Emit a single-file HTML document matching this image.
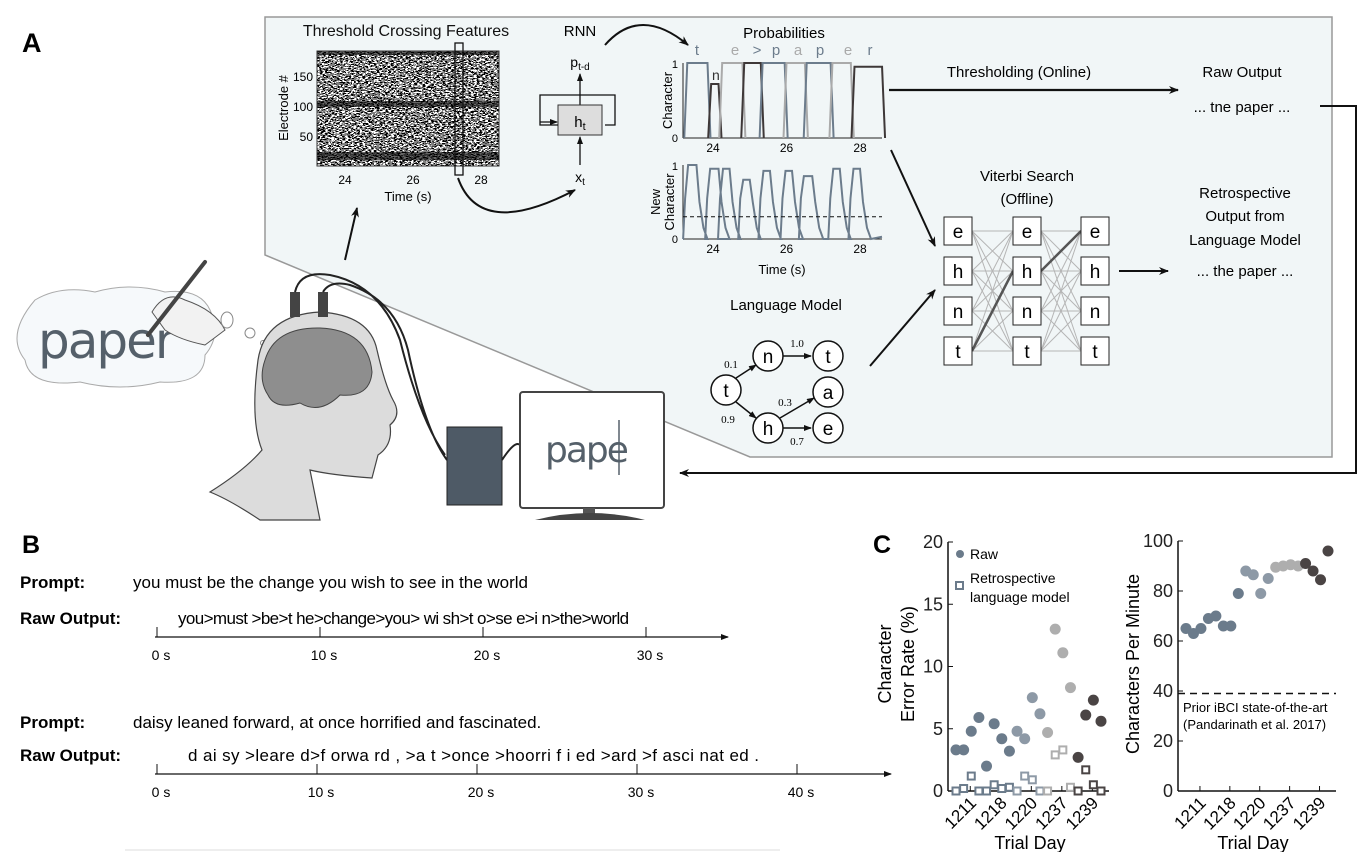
<!DOCTYPE html>
<html><head><meta charset="utf-8">
<style>
html,body{margin:0;padding:0;background:#fff;}
svg{display:block;font-family:"Liberation Sans",sans-serif;}
</style></head>
<body>
<svg id="fig" width="1364" height="852" viewBox="0 0 1364 852">
<defs>
  <marker id="ah" markerWidth="10" markerHeight="8" refX="9" refY="4" orient="auto" markerUnits="userSpaceOnUse"><path d="M0,0 L10,4 L0,8 L3,4 Z" fill="#111"/></marker>
  <marker id="ahs" markerWidth="8" markerHeight="6" refX="7" refY="3" orient="auto" markerUnits="userSpaceOnUse"><path d="M0,0 L8,3 L0,6 Z" fill="#111"/></marker>
  <filter id="noise" x="0" y="0" width="100%" height="100%">
    <feTurbulence type="fractalNoise" baseFrequency="0.35 1.2" numOctaves="2" seed="4"/>
    <feColorMatrix type="saturate" values="0"/>
    <feComponentTransfer><feFuncR type="discrete" tableValues="0 0 1 1"/><feFuncG type="discrete" tableValues="0 0 1 1"/><feFuncB type="discrete" tableValues="0 0 1 1"/><feFuncA type="linear" slope="0" intercept="1"/></feComponentTransfer>
  </filter>
</defs>

<!-- Panel A -->
<text x="22" y="52" font-size="27" font-weight="bold">A</text>
<polygon points="265,17 1332,17 1332,457 750,457 265,255" fill="#f1f6f7" stroke="#999" stroke-width="1.5"/>

<text x="406" y="36" font-size="16" text-anchor="middle" fill="#111">Threshold Crossing Features</text>
<g>
  <rect x="317" y="51" width="182" height="115" fill="#fff" filter="url(#noise)"/>
  <rect x="317" y="51" width="182" height="4" fill="#000" opacity="0.6"/>
  <rect x="317" y="101" width="182" height="6" fill="#000" opacity="0.6"/>
  <rect x="317" y="152" width="182" height="8" fill="#000" opacity="0.6"/>
  <rect x="317" y="51" width="182" height="115" fill="none" stroke="#333" stroke-width="1"/>
  <rect x="455" y="43" width="8" height="132" fill="none" stroke="#111" stroke-width="1.3"/>
</g>
<text x="313" y="81" font-size="12" text-anchor="end">150</text>
<text x="313" y="111" font-size="12" text-anchor="end">100</text>
<text x="313" y="141" font-size="12" text-anchor="end">50</text>
<text transform="translate(288,108) rotate(-90)" font-size="13" text-anchor="middle">Electrode #</text>
<text x="345" y="184" font-size="12" text-anchor="middle">24</text>
<text x="413" y="184" font-size="12" text-anchor="middle">26</text>
<text x="481" y="184" font-size="12" text-anchor="middle">28</text>
<text x="408" y="201" font-size="13" text-anchor="middle">Time (s)</text>

<text x="580" y="36" font-size="15" text-anchor="middle">RNN</text>
<text x="580" y="67" font-size="14" text-anchor="middle">p<tspan font-size="10" dy="3">t-d</tspan></text>
<line x1="580" y1="105" x2="580" y2="74" stroke="#111" stroke-width="1.3" marker-end="url(#ahs)"/>
<rect x="558" y="105" width="44" height="30" fill="#ddd" stroke="#333"/>
<text x="580" y="127" font-size="15" text-anchor="middle">h<tspan font-size="11" dy="3">t</tspan></text>
<path d="M580,95 L615,95 L615,125 L605,125 M558,125 L540,125 L540,95 L580,95" fill="none" stroke="#111" stroke-width="1.3"/>
<line x1="540" y1="122" x2="557" y2="122" stroke="#111" stroke-width="1.3" marker-end="url(#ahs)"/>
<line x1="580" y1="165" x2="580" y2="137" stroke="#111" stroke-width="1.3" marker-end="url(#ahs)"/>
<text x="580" y="182" font-size="14" text-anchor="middle">x<tspan font-size="10" dy="3">t</tspan></text>
<path d="M458,178 Q480,240 575,190" fill="none" stroke="#111" stroke-width="2" marker-end="url(#ah)"/>
<path d="M605,45 Q640,5 688,45" fill="none" stroke="#111" stroke-width="2" marker-end="url(#ah)"/>
<line x1="345" y1="260" x2="357" y2="208" stroke="#111" stroke-width="2" marker-end="url(#ah)"/>

<text x="784" y="38" font-size="15" text-anchor="middle">Probabilities</text>
<g id="probs"></g>

<text x="1019" y="77" font-size="15" text-anchor="middle">Thresholding (Online)</text>
<line x1="889" y1="90" x2="1178" y2="90" stroke="#111" stroke-width="2.2" marker-end="url(#ah)"/>
<text x="1242" y="77" font-size="15" text-anchor="middle">Raw Output</text>
<text x="1242" y="112" font-size="15" text-anchor="middle">... tne paper ...</text>
<polyline points="1320,106 1356,106 1356,473 680,473" fill="none" stroke="#111" stroke-width="2" marker-end="url(#ah)"/>

<text x="1027" y="181" font-size="15" text-anchor="middle">Viterbi Search</text>
<text x="1027" y="204" font-size="15" text-anchor="middle">(Offline)</text>
<g id="viterbi"></g>
<line x1="891" y1="150" x2="935" y2="246" stroke="#111" stroke-width="2" marker-end="url(#ah)"/>
<line x1="870" y1="366" x2="935" y2="290" stroke="#111" stroke-width="2" marker-end="url(#ah)"/>
<text x="1245" y="198" font-size="15" text-anchor="middle">Retrospective</text>
<text x="1245" y="221" font-size="15" text-anchor="middle">Output from</text>
<text x="1245" y="245" font-size="15" text-anchor="middle">Language Model</text>
<line x1="1119" y1="271" x2="1168" y2="271" stroke="#111" stroke-width="2" marker-end="url(#ah)"/>
<text x="1245" y="276" font-size="15" text-anchor="middle">... the paper ...</text>

<text x="786" y="310" font-size="15" text-anchor="middle">Language Model</text>
<g font-size="19" text-anchor="middle">
  <line x1="736" y1="378" x2="756" y2="365" stroke="#111" stroke-width="1.5" marker-end="url(#ahs)"/>
  <line x1="736" y1="402" x2="756" y2="418" stroke="#111" stroke-width="1.5" marker-end="url(#ahs)"/>
  <line x1="783" y1="356" x2="811" y2="356" stroke="#111" stroke-width="1.5" marker-end="url(#ahs)"/>
  <line x1="780" y1="418" x2="814" y2="398" stroke="#111" stroke-width="1.5" marker-end="url(#ahs)"/>
  <line x1="783" y1="428" x2="811" y2="428" stroke="#111" stroke-width="1.5" marker-end="url(#ahs)"/>
  <circle cx="726" cy="390" r="15" fill="#fff" stroke="#111" stroke-width="1.5"/><text x="726" y="397">t</text>
  <circle cx="768" cy="356" r="15" fill="#fff" stroke="#111" stroke-width="1.5"/><text x="768" y="363">n</text>
  <circle cx="828" cy="356" r="15" fill="#fff" stroke="#111" stroke-width="1.5"/><text x="828" y="363">t</text>
  <circle cx="828" cy="392" r="15" fill="#fff" stroke="#111" stroke-width="1.5"/><text x="828" y="399">a</text>
  <circle cx="768" cy="428" r="15" fill="#fff" stroke="#111" stroke-width="1.5"/><text x="768" y="435">h</text>
  <circle cx="828" cy="428" r="15" fill="#fff" stroke="#111" stroke-width="1.5"/><text x="828" y="435">e</text>
  <g font-family="Liberation Serif, serif" font-size="11"><text x="731" y="368">0.1</text><text x="728" y="423">0.9</text><text x="797" y="347">1.0</text><text x="785" y="406">0.3</text><text x="797" y="445">0.7</text></g>
</g>

<g>
  <path d="M35,300 Q60,285 95,292 Q130,282 165,292 Q200,288 210,310 Q222,335 205,355 Q205,385 160,382 Q120,392 80,382 Q30,388 25,360 Q5,335 35,300 Z" fill="#f6f9fb" stroke="#aaa"/>
  <text x="38" y="358" font-size="50" fill="#55606a" font-family="DejaVu Sans,sans-serif" letter-spacing="-2">paper</text>
  <path d="M152,312 Q165,290 185,300 Q215,310 225,330 L205,345 Q180,340 165,330 Z" fill="#f2f2f2" stroke="#555"/>
  <line x1="148" y1="335" x2="205" y2="262" stroke="#444" stroke-width="4" stroke-linecap="round"/>
  <ellipse cx="227" cy="320" rx="6" ry="8" fill="#fff" stroke="#888"/>
  <circle cx="250" cy="333" r="5" fill="#fff" stroke="#888"/>
  <circle cx="263" cy="343" r="2.5" fill="#fff" stroke="#888"/>
  <path d="M258,360 Q265,315 320,312 Q370,315 377,350 Q385,385 393,400 Q402,415 390,425 Q393,445 378,455 L372,478 Q330,475 310,470 L320,520 L260,520 Q230,500 210,492 Q245,470 262,450 Q250,420 258,360 Z" fill="#dcdcdc" stroke="#444" stroke-width="1.2"/>
  <path d="M265,360 Q275,327 320,328 Q368,330 372,372 Q370,398 340,395 Q320,415 300,403 Q275,410 268,395 Q258,380 265,360 Z" fill="#8e8e8e" stroke="#444"/>
  <rect x="290" y="292" width="10" height="25" fill="#444"/>
  <rect x="318" y="292" width="10" height="25" fill="#444"/>
  <path d="M295,292 Q300,270 330,275 Q380,285 400,340 Q420,420 445,455 M323,292 Q330,280 350,285 Q395,300 408,350 Q425,430 447,460" fill="none" stroke="#222" stroke-width="2"/>
  <rect x="447" y="427" width="55" height="78" fill="#4e5a66" stroke="#222"/>
  <path d="M502,460 Q515,440 520,445" fill="none" stroke="#222" stroke-width="2"/>
  <rect x="520" y="392" width="144" height="116" rx="3" fill="#fff" stroke="#444" stroke-width="2"/>
  <text x="545" y="462" font-size="36" fill="#55606a" font-family="DejaVu Sans,sans-serif" letter-spacing="-2">pape</text>
  <line x1="619" y1="420" x2="619" y2="475" stroke="#55606a" stroke-width="1.5"/>
  <rect x="583" y="508" width="12" height="12" fill="#555"/>
  <path d="M535,520 Q590,506 645,520 Z" fill="#444"/>
</g>

<!-- Panel B -->
<text x="22" y="553" font-size="25" font-weight="bold">B</text>
<g font-size="17">
  <text x="20" y="588" font-weight="bold">Prompt:</text>
  <text x="133" y="588">you must be the change you wish to see in the world</text>
  <text x="20" y="624" font-weight="bold">Raw Output:</text>
  <text x="178" y="624" letter-spacing="-0.6">you&gt;must &gt;be&gt;t he&gt;change&gt;you&gt; wi sh&gt;t o&gt;se e&gt;i n&gt;the&gt;world</text>
</g>
<g id="timeline1"></g>
<g font-size="17">
  <text x="20" y="728" font-weight="bold">Prompt:</text>
  <text x="133" y="728">daisy leaned forward, at once horrified and fascinated.</text>
  <text x="20" y="761" font-weight="bold">Raw Output:</text>
  <text x="188" y="761" letter-spacing="0.4">d ai sy &gt;leare d&gt;f orwa rd  , &gt;a t &gt;once &gt;hoorri f i ed &gt;ard &gt;f asci nat ed .</text>
</g>
<g id="timeline2"></g>
<line x1="125" y1="850" x2="780" y2="850" stroke="#ddd" stroke-width="1"/>

<!-- Panel C -->
<text x="873" y="553" font-size="25" font-weight="bold">C</text>
<g id="cer"></g>
<g id="cpm"></g>
</svg>

<script>
const trialDays = ["1211","1218","1220","1237","1239"];
const rawErrorRate = [3.3,3.3,4.8,5.9,2.0,5.4,4.2,3.2,4.8,4.2,7.5,6.2,4.7,13.0,11.1,8.3,2.7,6.1,7.3,5.6];
const lmErrorRate = [0,0.2,1.2,0,0,0.5,0.2,0.3,0,1.2,0.9,0,0,2.9,3.3,0.3,0,1.7,0.5,0];
const sessionGroup = [0,0,0,0,0,0,0,0,1,1,1,1,2,2,2,2,3,3,3,3];
const charsPerMinute = [65,63,65,69,70,66,66,79,88,86.5,79,85,89.5,90,90.5,90,91,88,84.5,96];
const speedGroup = [0,0,0,0,0,0,0,0,1,1,1,1,2,2,2,2,3,3,3,3];
const cerTicks = [0,5,10,15,20];
const cpmTicks = [0,20,40,60,80,100];
const priorStateOfArt = 39;

const charLabels = ["t","e",">","p","a","p","e","r"];
const charPulses = [[23.3,23.85,1,0],[23.95,24.15,0.72,2],[24.25,24.8,1,1],[24.85,25.3,1,2],[25.35,25.95,1,0],[26.0,26.5,1,1],[26.55,27.2,1,0],[27.25,27.75,1,1],[27.85,28.6,0.95,2]];
const newCharPulses = [[23.35,23.55,1.0],[23.95,24.15,0.95],[24.3,24.45,0.95],[24.85,25.0,0.8],[25.4,25.55,0.92],[26.0,26.15,0.92],[26.5,26.7,0.85],[27.3,27.45,0.95],[27.85,28.0,0.95]];
const timeTicks = [24,26,28];
const newCharThreshold = 0.3;

const NS="http://www.w3.org/2000/svg";
function mk(parent,tag,attrs,txt){const e=document.createElementNS(NS,tag);for(const k in attrs)e.setAttribute(k,attrs[k]);if(txt!==undefined)e.textContent=txt;parent.appendChild(e);return e;}

(function(){
  const g=document.getElementById('probs');
  const tx=t=>713+(t-24)*36.75;
  const cols=["#6c7c8c","#aaaaaa","#3e3838"];
  function axes(y1,y0,label,label2){
    mk(g,'line',{x1:683,y1:y1,x2:683,y2:y0,stroke:'#222'});
    mk(g,'line',{x1:683,y1:y0,x2:882,y2:y0,stroke:'#222'});
    mk(g,'text',{x:678,y:y1+5,'font-size':11,'text-anchor':'end'},'1');
    mk(g,'text',{x:678,y:y0+4,'font-size':11,'text-anchor':'end'},'0');
    timeTicks.forEach(t=>{const l=mk(g,'text',{x:tx(t),y:y0+14,'font-size':12,'text-anchor':'middle'},String(t));});
    if(label2){mk(g,'text',{transform:`translate(660,${(y1+y0)/2}) rotate(-90)`,'font-size':13,'text-anchor':'middle'},label);mk(g,'text',{transform:`translate(674,${(y1+y0)/2}) rotate(-90)`,'font-size':13,'text-anchor':'middle'},label2);}
    else mk(g,'text',{transform:`translate(672,${(y1+y0)/2}) rotate(-90)`,'font-size':13,'text-anchor':'middle'},label);
  }
  axes(63,138,'Character');
  const py=v=>138-v*75;
  charPulses.forEach(p=>{
    const a=tx(p[0]),b=tx(p[1]),r=3;
    const path=mk(g,'path',{d:`M${a-r},${py(0)} L${a},${py(p[2])} L${b},${py(p[2])} L${b+r},${py(0)}`,fill:'none',stroke:cols[p[3]],'stroke-width':2});
    
    
  });
  const lx=[697,735,757,776,798,820,848,870];
  charLabels.forEach((c,i)=>{const t=mk(g,'text',{x:lx[i],y:55,'font-size':15,'text-anchor':'middle',fill:(c==='e'||c==='a')?'#aaa':'#6c7c8c'},c);});
  mk(g,'text',{x:712,y:80,'font-size':14,fill:'#333'},'n');
  axes(165,239,'New','Character');
  const qy=v=>239-v*74;
  let d=`M683,${qy(0)}`;
  newCharPulses.forEach(p=>{const a=tx(p[0]),b=tx(p[1]);d+=` L${a-6},${qy(0)} L${a-4},${qy(0.55)} L${a-1},${qy(p[2])} L${b},${qy(p[2])} L${b+3},${qy(0.5)} L${b+7},${qy(0.15)} L${b+11},${qy(0)}`;});
  d+=` L882,${qy(0.03)}`;
  const nc=mk(g,'path',{d:d,fill:'none',stroke:'#6c7c8c','stroke-width':2});
  
  
  mk(g,'line',{x1:683,y1:qy(newCharThreshold),x2:882,y2:qy(newCharThreshold),stroke:'#111','stroke-dasharray':'4,3'});
  mk(g,'text',{x:782,y:274,'font-size':13,'text-anchor':'middle'},'Time (s)');
})();

(function(){
  const g=document.getElementById('viterbi');
  const cx=[958,1027,1095], cy=[231,271,311,351], letters=["e","h","n","t"];
  for(let c=0;c<2;c++)for(let i=0;i<4;i++)for(let j=0;j<4;j++)
    mk(g,'line',{x1:cx[c]+14,y1:cy[i],x2:cx[c+1]-14,y2:cy[j],stroke:'#b5b5b5','stroke-width':1});
  mk(g,'line',{x1:972,y1:351,x2:1013,y2:271,stroke:'#555','stroke-width':2.5});
  mk(g,'line',{x1:1041,y1:271,x2:1081,y2:231,stroke:'#555','stroke-width':2.5});
  cx.forEach(x=>cy.forEach((y,i)=>{
    const r=mk(g,'rect',{x:x-14,y:y-14,width:28,height:28,fill:'#fff',stroke:'#222'});
    
    
    mk(g,'text',{x:x,y:y+7,'font-size':19,'text-anchor':'middle'},letters[i]);
  }));
})();

function timeline(id,y,ticks,x0,step,end){
  const g=document.getElementById(id);
  mk(g,'line',{x1:x0-2,y1:y,x2:end,y2:y,stroke:'#111','stroke-width':1.3,'marker-end':'url(#ahs)'});
  ticks.forEach((t,i)=>{const x=x0+i*step;mk(g,'line',{x1:x,y1:y,x2:x,y2:y-10,stroke:'#111'});
    const l=mk(g,'text',{x:x+4,y:y+23,'font-size':14,'text-anchor':'middle'},t);
    
    });
}
timeline('timeline1',637,["0 s","10 s","20 s","30 s"],157,163,728);
timeline('timeline2',774,["0 s","10 s","20 s","30 s","40 s"],157,160,891);

const palette=["#6b7b8b","#8d99a6","#aeaeae","#4a4444"];
function scatterChart(gid,x0,x1,yTop,yBot,ymax,ticks,yvals,groups,opts){
  const g=document.getElementById(gid);
  const n=yvals.length;
  const xs=i=>x0+8+i*((x1-x0-16)/(n-1));
  const ys=v=>yBot-(v/ymax)*(yBot-yTop);
  mk(g,'line',{x1:x0,y1:yTop,x2:x0,y2:yBot,stroke:'#111','stroke-width':1.5});
  mk(g,'line',{x1:x0,y1:yBot,x2:x1,y2:yBot,stroke:'#111','stroke-width':1.5});
  ticks.forEach(t=>{mk(g,'line',{x1:x0,y1:ys(t),x2:x0+5,y2:ys(t),stroke:'#111'});
    const l=mk(g,'text',{x:x0-5,y:ys(t)+6,'font-size':18,'text-anchor':'end',fill:'#222'},String(t));
    
    });
  trialDays.forEach((d,k)=>{const x=xs(2+k*4)-1;mk(g,'line',{x1:x,y1:yBot,x2:x,y2:yBot-5,stroke:'#111'});
    const l=mk(g,'text',{transform:`translate(${x+7},${yBot+13}) rotate(-45)`,'font-size':17,'text-anchor':'end'},d);
    
    });
  if(opts.dash!==undefined){mk(g,'line',{x1:x0,y1:ys(opts.dash),x2:x1,y2:ys(opts.dash),stroke:'#111','stroke-width':1.5,'stroke-dasharray':'7,5'});}
  yvals.forEach((v,i)=>{const c=mk(g,'circle',{cx:xs(i),cy:ys(v),r:5.5,fill:palette[groups[i]]});
    
    });
  if(opts.sq)opts.sq.forEach((v,i)=>{const s=mk(g,'rect',{x:xs(i)-3.5,y:ys(v)-3.5,width:7,height:7,fill:'#fff',stroke:palette[groups[i]],'stroke-width':2});
    
    });
  return {xs,ys};
}
scatterChart('cer',948,1109,542,791,20,cerTicks,rawErrorRate,sessionGroup,{sq:lmErrorRate});
scatterChart('cpm',1178,1336,541,791,100,cpmTicks,charsPerMinute,speedGroup,{dash:priorStateOfArt});
(function(){
  const g=document.getElementById('cer');
  mk(g,'circle',{cx:960,cy:554,r:4,fill:palette[0]});
  mk(g,'text',{x:970,y:559,'font-size':14},'Raw');
  mk(g,'rect',{x:956,y:582,width:7,height:7,fill:'#fff',stroke:palette[0],'stroke-width':2});
  mk(g,'text',{x:970,y:583,'font-size':14},'Retrospective');
  mk(g,'text',{x:970,y:602,'font-size':14},'language model');
  mk(g,'text',{transform:'translate(891,664) rotate(-90)','font-size':18,'text-anchor':'middle'},'Character');
  mk(g,'text',{transform:'translate(914,664) rotate(-90)','font-size':18,'text-anchor':'middle'},'Error Rate (%)');
  mk(g,'text',{x:1030,y:849,'font-size':18,'text-anchor':'middle'},'Trial Day');
  const h=document.getElementById('cpm');
  mk(h,'text',{transform:'translate(1139,664) rotate(-90)','font-size':18,'text-anchor':'middle'},'Characters Per Minute');
  mk(h,'text',{x:1183,y:712,'font-size':13},'Prior iBCI state-of-the-art');
  mk(h,'text',{x:1183,y:729,'font-size':13},'(Pandarinath et al. 2017)');
  mk(h,'text',{x:1253,y:849,'font-size':18,'text-anchor':'middle'},'Trial Day');
})();
</script>
</body></html>
